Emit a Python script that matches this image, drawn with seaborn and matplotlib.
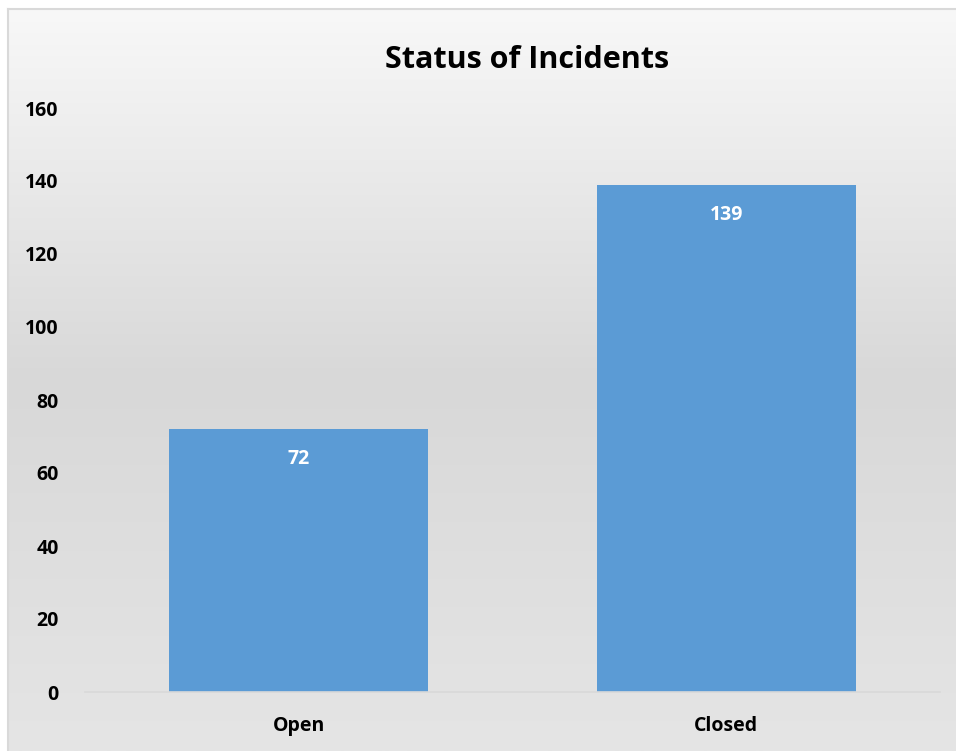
import numpy as np
import matplotlib.pyplot as plt
import seaborn as sns
from matplotlib.colors import LinearSegmentedColormap

# data
categories = ['Open', 'Closed']
counts = [72, 139]
y_ticks = [0, 20, 40, 60, 80, 100, 120, 140, 160]

sns.set_style('white')
plt.rcParams['font.family'] = ['Open Sans', 'DejaVu Sans']
plt.rcParams['text.color'] = 'black'
plt.rcParams['xtick.color'] = 'black'
plt.rcParams['ytick.color'] = 'black'

fig = plt.figure(figsize=(9.56, 7.51), dpi=100)
fig.patch.set_facecolor('white')

# chart area background with Excel-like gradient
bg = fig.add_axes([8 / 956, 0, 1 - 8 / 956, 1 - 9 / 751])
grad = LinearSegmentedColormap.from_list('g', ['#f8f8f8', '#d8d8d8', '#e5e5e5'])
bg.imshow(np.linspace(0, 1, 256).reshape(-1, 1), cmap=grad, aspect='auto',
          extent=[0, 1, 0, 1], origin='upper')
bg.set_xticks([])
bg.set_yticks([])
for side in ['right', 'bottom']:
    bg.spines[side].set_visible(False)
for side in ['left', 'top']:
    bg.spines[side].set_color('#d9d9d9')
    bg.spines[side].set_linewidth(1.5)

ax = fig.add_axes([85 / 956, 59 / 751, 855 / 956, 584 / 751])
ax.patch.set_alpha(0)
sns.barplot(x=categories, y=counts, color='#5b9bd5', width=0.605, saturation=1,
            edgecolor='none', linewidth=0, ax=ax)

ax.set_ylim(0, 160)
ax.set_xlim(-0.5, 1.5)
ax.set_yticks(y_ticks)
ax.set_yticklabels([str(t) for t in y_ticks], fontsize=14, fontweight='bold')
ax.set_xticklabels(categories, fontsize=14, fontweight='bold')
ax.tick_params(axis='y', length=0, pad=19)
ax.tick_params(axis='x', length=0, pad=17)
ax.set_xlabel('')
ax.set_ylabel('')
for side in ['left', 'right', 'top']:
    ax.spines[side].set_visible(False)
ax.spines['bottom'].set_color('#d9d9d9')
ax.spines['bottom'].set_linewidth(1.2)

for bar, v in zip(ax.patches, counts):
    ax.annotate(str(v), (bar.get_x() + bar.get_width() / 2, bar.get_height()),
                xytext=(0, -30), textcoords='offset pixels', ha='center', va='center',
                color='white', fontsize=14, fontweight='bold')

fig.text(527 / 956, 1 - 60 / 751, 'Status of Incidents', ha='center', va='center',
         fontsize=22, fontweight='bold', color='black')

fig.savefig('out.png', dpi=100)
